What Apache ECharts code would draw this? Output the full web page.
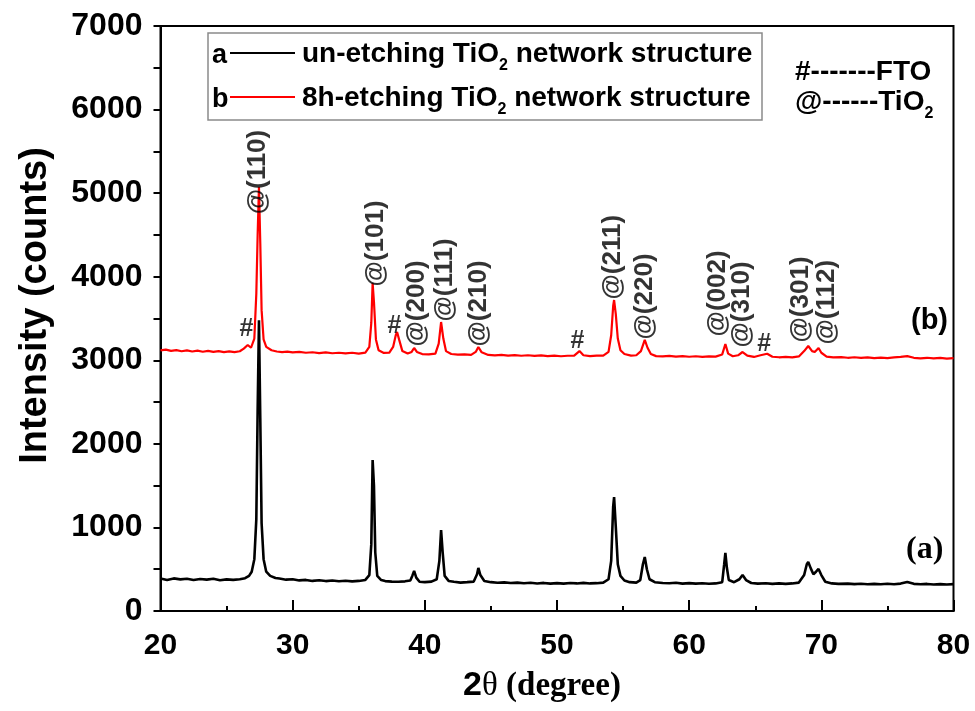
<!DOCTYPE html>
<html><head><meta charset="utf-8">
<script src="https://cdn.jsdelivr.net/npm/echarts/dist/echarts.min.js"></script>
<style>html,body{margin:0;padding:0;background:#fff}#c{width:975px;height:711px}</style>
</head><body><div id="c"></div>
<script>
// ---- data ----
const thetaA = [20.0,20.5,21.0,21.5,22.0,22.5,23.0,23.5,24.0,24.5,25.0,25.5,26.0,26.4,26.7,26.9,27.1,27.25,27.35,27.45,27.55,27.65,27.8,28.0,28.3,28.7,29.0,29.5,30.0,30.5,31.0,31.5,32.0,32.5,33.0,33.5,34.0,34.5,35.0,35.5,35.8,35.95,36.05,36.15,36.25,36.4,36.7,37.0,37.5,38.0,38.5,38.9,39.05,39.19,39.35,39.6,40.0,40.5,40.9,41.1,41.23,41.35,41.5,41.8,42.2,42.7,43.2,43.7,43.95,44.05,44.2,44.5,45.0,45.5,46.0,46.5,47.0,47.5,48.0,48.5,49.0,49.5,50.0,50.5,51.0,51.5,52.0,52.5,53.0,53.5,53.9,54.1,54.25,54.32,54.45,54.6,54.8,55.1,55.5,56.0,56.3,56.5,56.64,56.8,57.0,57.4,58.0,58.5,59.0,59.5,60.0,60.5,61.0,61.5,62.0,62.5,62.65,62.74,62.85,63.0,63.4,63.8,64.04,64.3,64.7,65.2,65.8,66.3,66.8,67.3,67.8,68.3,68.7,68.9,69.01,69.2,69.4,69.6,69.79,70.0,70.3,70.8,71.3,72.0,72.5,73.0,73.5,74.0,74.5,75.0,75.5,76.0,76.5,77.0,77.5,78.0,78.5,79.0,79.5,80.0];
const countsA = [388,372,390,378,385,370,382,375,386,368,378,372,380,392,420,470,620,1100,2400,3480,2300,1050,620,470,420,395,388,375,380,366,372,360,368,358,365,356,362,355,360,372,430,800,1807,1500,700,420,370,358,352,350,355,365,420,479,400,350,345,352,380,600,969,700,420,360,350,340,345,352,440,515,430,360,345,338,342,335,340,332,338,330,336,328,334,328,335,330,336,330,333,340,380,600,1250,1364,1000,560,420,365,345,340,370,560,646,500,380,345,335,332,338,328,334,328,332,326,330,345,560,694,520,370,345,380,431,370,335,328,332,325,330,325,330,340,430,560,586,510,440,470,503,430,350,330,325,328,322,326,320,324,320,326,320,328,347,325,320,324,318,322,318,322];
const thetaB = [20.0,20.4,20.8,21.2,21.6,22.0,22.4,22.8,23.2,23.6,24.0,24.4,24.8,25.2,25.6,26.0,26.3,26.6,26.85,27.1,27.25,27.35,27.45,27.55,27.65,27.8,28.0,28.4,28.8,29.2,29.6,30.0,30.5,31.0,31.5,32.0,32.5,33.0,33.5,34.0,34.5,35.0,35.5,35.8,35.95,36.05,36.15,36.3,36.5,36.9,37.3,37.6,37.8,37.9,38.05,38.3,38.7,39.0,39.19,39.4,39.8,40.3,40.8,41.05,41.23,41.4,41.6,42.0,42.5,43.0,43.5,43.85,44.05,44.3,44.8,45.3,45.8,46.3,46.8,47.3,47.8,48.3,48.8,49.3,49.8,50.3,50.8,51.3,51.7,52.0,52.5,53.0,53.5,53.9,54.1,54.25,54.32,54.45,54.6,54.8,55.1,55.6,56.0,56.35,56.64,56.85,57.1,57.5,58.0,58.5,59.0,59.5,60.0,60.5,61.0,61.5,62.0,62.5,62.74,62.95,63.3,63.7,64.04,64.4,64.9,65.4,65.9,66.3,66.8,67.3,67.8,68.3,68.7,69.01,69.3,69.5,69.79,70.0,70.4,70.9,71.5,72.0,72.5,73.0,73.5,74.0,74.5,75.0,75.5,76.0,76.5,77.0,77.5,78.0,78.5,79.0,79.5,80.0];
const countsB = [3118,3128,3112,3122,3108,3118,3105,3115,3102,3112,3100,3110,3098,3106,3098,3108,3140,3183,3150,3260,3800,4500,5074,4400,3600,3250,3160,3120,3105,3098,3104,3094,3100,3090,3096,3086,3094,3084,3090,3082,3090,3080,3092,3160,3450,3925,3700,3250,3120,3088,3090,3160,3300,3339,3250,3110,3080,3100,3147,3100,3074,3070,3080,3200,3458,3260,3110,3075,3068,3070,3064,3100,3159,3095,3064,3058,3064,3056,3062,3054,3060,3052,3058,3050,3056,3048,3054,3056,3110,3060,3050,3055,3056,3100,3300,3650,3721,3550,3260,3120,3075,3056,3060,3110,3243,3150,3075,3050,3046,3052,3044,3050,3042,3048,3040,3046,3044,3070,3195,3080,3048,3060,3099,3055,3040,3060,3078,3042,3036,3040,3034,3046,3110,3171,3110,3100,3147,3090,3044,3034,3038,3030,3036,3028,3034,3026,3032,3026,3034,3040,3050,3030,3024,3030,3022,3028,3020,3026];
const peakTexts = ['@(110)','@(101)','@(200)','@(111)','@(210)','@(211)','@(220)','@(002)','@(310)','@(301)','@(112)'];
const peakTheta = [27.4,36.3,39.4,41.52,44.09,54.23,56.65,62.17,64.06,68.52,70.49];
const peakCounts = [4740,3877,3159,3458,3159,3721,3243,3279,3147,3207,3183];
const ftoTheta = [26.55,37.74,51.58,65.72];
const ftoCounts = [3362,3398,3219,3183];
const seriesNames = ['un-etching TiO2 network structure','8h-etching TiO2 network structure'];

const chart = echarts.init(document.getElementById('c'), null, {renderer:'canvas'});
const SANS = "'Liberation Sans', Arial, sans-serif";
const SERIF = "'Liberation Serif', 'Times New Roman', serif";

const subRich = {
  n:{fontFamily:SANS, fontWeight:'bold', fontSize:28, color:'#000', lineHeight:40, verticalAlign:'middle'},
  s:{fontFamily:SANS, fontWeight:'bold', fontSize:16, color:'#000', lineHeight:12, verticalAlign:'bottom'}
};

function legendRow(letter, color, y, text) {
  return [
    {type:'text', z:11, x:212, y:y+3, style:{text:letter, fontFamily:SANS, fontWeight:'bold', fontSize:27, fill:'#000', verticalAlign:'middle'}},
    {type:'line', z:11, shape:{x1:230, y1:y, x2:295, y2:y}, style:{stroke:color, lineWidth:2}},
    {type:'text', z:11, x:302, y:y+1, style:{
      text:'{n|'+text.replace('TiO2','TiO}{s|2}{n|')+'}', rich:subRich, verticalAlign:'middle'}}
  ];
}

const option = {
  animation:false,
  backgroundColor:'#fff',
  grid:{left:160.5, right:21.5, top:26, bottom:100, show:true, borderColor:'#000', borderWidth:2, backgroundColor:'transparent'},
  xAxis:{type:'value', min:20, max:80, interval:10,
    name:'{a|2}{b|θ}{c| (degree)}', nameLocation:'middle', nameGap:58,
    nameTextStyle:{padding:[0,30,0,0], rich:{
      a:{fontFamily:SANS, fontWeight:'bold', fontSize:34, color:'#000'},
      b:{fontFamily:SERIF, fontSize:33, color:'#000'},
      c:{fontFamily:SERIF, fontWeight:'bold', fontSize:33, color:'#000'}}},
    axisLine:{show:true, onZero:false, lineStyle:{color:'#000', width:2}},
    axisTick:{show:true, inside:true, length:11, lineStyle:{color:'#000', width:2}},
    minorTick:{show:true, splitNumber:2, length:5, lineStyle:{color:'#000', width:2}},
    axisLabel:{margin:20, fontFamily:SANS, fontWeight:'bold', fontSize:30, color:'#000'},
    splitLine:{show:false}},
  yAxis:{type:'value', min:0, max:7000, interval:1000,
    name:'Intensity (counts)', nameLocation:'middle', nameGap:106,
    nameTextStyle:{fontFamily:SANS, fontWeight:'bold', fontSize:38, color:'#000', padding:[0,0,0,26]},
    axisLine:{show:true, lineStyle:{color:'#000', width:2}},
    axisTick:{show:true, inside:false, length:7, lineStyle:{color:'#000', width:2}},
    minorTick:{show:true, splitNumber:2, length:7, lineStyle:{color:'#000', width:2}},
    axisLabel:{margin:18, fontFamily:SANS, fontWeight:'bold', fontSize:32, color:'#000', formatter:(v)=>String(v)},
    splitLine:{show:false}},
  series:[
    {name:seriesNames[0], type:'line', data:thetaA.map((x,i)=>[x,countsA[i]]), showSymbol:false,
      lineStyle:{color:'#000', width:2.6}, z:2},
    {name:seriesNames[1], type:'line', data:thetaB.map((x,i)=>[x,countsB[i]]), showSymbol:false,
      lineStyle:{color:'#ff0000', width:2.2}, z:3},
    {type:'scatter', silent:true, z:5, symbolSize:1, itemStyle:{color:'rgba(0,0,0,0)'},
      data:peakTheta.map((x,i)=>({name:peakTexts[i], value:[x,peakCounts[i]]})),
      label:{show:true, formatter:'{b}', position:[0,0], rotate:90, align:'left', verticalAlign:'middle',
        fontFamily:SANS, fontWeight:'bold', fontSize:26, color:'#000'}},
    {type:'scatter', silent:true, z:5, symbolSize:1, itemStyle:{color:'rgba(0,0,0,0)'},
      data:ftoTheta.map((x,i)=>({name:'#', value:[x,ftoCounts[i]]})),
      label:{show:true, formatter:'{b}', position:[0,0], align:'center', verticalAlign:'middle',
        fontFamily:SANS, fontWeight:'bold', fontSize:25, color:'#000'}}
  ],
  graphic:[
    {type:'rect', z:10, shape:{x:208, y:33, width:554, height:87}, style:{fill:'#fff', stroke:'#8a8a8a', lineWidth:1.5}}
  ].concat(
    legendRow('a', '#000', 53, seriesNames[0]),
    legendRow('b', '#ff0000', 97, seriesNames[1]),
    [
      {type:'text', z:11, x:795, y:72, style:{text:'#-------FTO', fontFamily:SANS, fontWeight:'bold', fontSize:28, fill:'#000', verticalAlign:'middle'}},
      {type:'text', z:11, x:795, y:102, style:{text:'{n|@------TiO}{s|2}', rich:subRich, verticalAlign:'middle'}},
      {type:'text', z:11, x:911, y:321, style:{text:'(b)', fontFamily:SANS, fontWeight:'bold', fontSize:29, fill:'#000', verticalAlign:'middle'}},
      {type:'text', z:11, x:906, y:550, style:{text:'(a)', fontFamily:SERIF, fontWeight:'bold', fontSize:32, fill:'#000', verticalAlign:'middle'}}
    ])
};
chart.setOption(option);
</script></body></html>
